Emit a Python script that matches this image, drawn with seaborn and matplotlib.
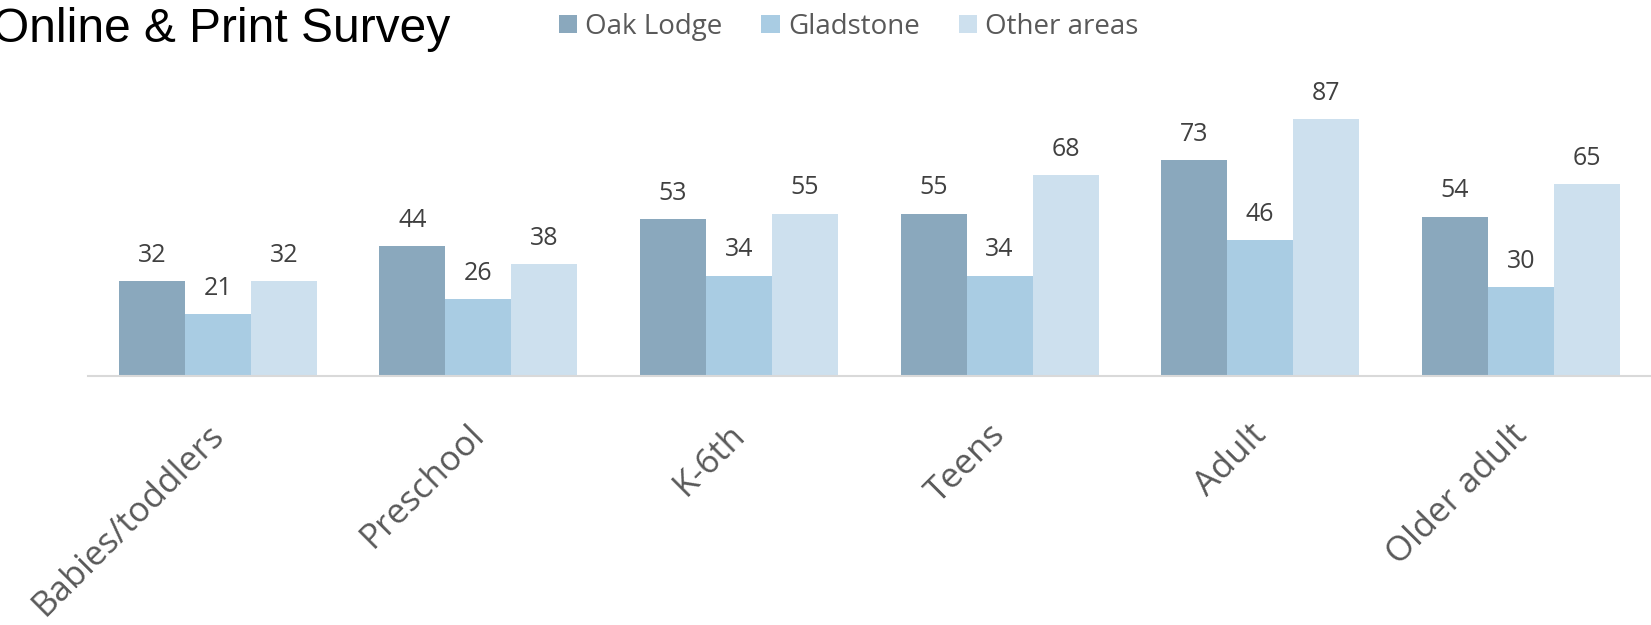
import matplotlib
matplotlib.use("Agg")
import matplotlib.pyplot as plt
import matplotlib.transforms as mtransforms
import seaborn as sns
import pandas as pd

categories = ["Babies/toddlers", "Preschool", "K-6th", "Teens", "Adult", "Older adult"]
series_names = ["Oak Lodge", "Gladstone", "Other areas"]
oak_lodge = [32, 44, 53, 55, 73, 54]
gladstone = [21, 26, 34, 34, 46, 30]
other_areas = [32, 38, 55, 68, 87, 65]
colors = ["#8AA8BD", "#A9CCE3", "#CDE0EE"]
title = "Online & Print Survey"

rows = []
for name, vals in zip(series_names, [oak_lodge, gladstone, other_areas]):
    for c, v in zip(categories, vals):
        rows.append({"category": c, "area": name, "value": v})
df = pd.DataFrame(rows)

sns.set_theme(style="white")
plt.rcParams["font.family"] = ["Open Sans", "DejaVu Sans"]

fig = plt.figure(figsize=(16.51, 6.25), dpi=100)
ax = fig.add_axes([0.053, 0.3984, 0.947, 0.5056])

sns.barplot(data=df, x="category", y="value", hue="area", order=categories,
            hue_order=series_names, palette=colors, width=0.76, saturation=1,
            linewidth=0, errorbar=None, ax=ax)

for cont in ax.containers:
    ax.bar_label(cont, padding=9.5, fontsize=18, color="#404040")

ax.set_xlim(-0.5, 5.5)
ax.set_ylim(0, 107)
ax.set_xlabel("")
ax.set_ylabel("")
ax.set_yticks([])
for s in ["top", "left", "right"]:
    ax.spines[s].set_visible(False)
ax.spines["bottom"].set_color("#D9D9D9")
ax.spines["bottom"].set_linewidth(1.5)
ax.tick_params(axis="x", length=0, pad=30, labelsize=25, labelcolor="#595959")
ax.set_xticks(range(len(categories)))
ax.set_xticklabels(categories, rotation=45, ha="right")
offset = mtransforms.ScaledTranslation(13 / 100, 0, fig.dpi_scale_trans)
for lab in ax.get_xticklabels():
    lab.set_transform(lab.get_transform() + offset)

handles, labels = ax.get_legend_handles_labels()
ax.legend(handles, labels, ncol=3, loc="center", bbox_to_anchor=(0.514, 0.957),
          bbox_transform=fig.transFigure, frameon=False, fontsize=20,
          labelcolor="#595959", handlelength=0.65, handleheight=0.65,
          handletextpad=0.3, columnspacing=1.4, borderpad=0, borderaxespad=0)

fig.text(-0.005, 0.933, title, fontsize=34.5, family=["Liberation Sans", "DejaVu Sans"],
         color="black", ha="left", va="baseline")

fig.savefig("out.png", dpi=100)
